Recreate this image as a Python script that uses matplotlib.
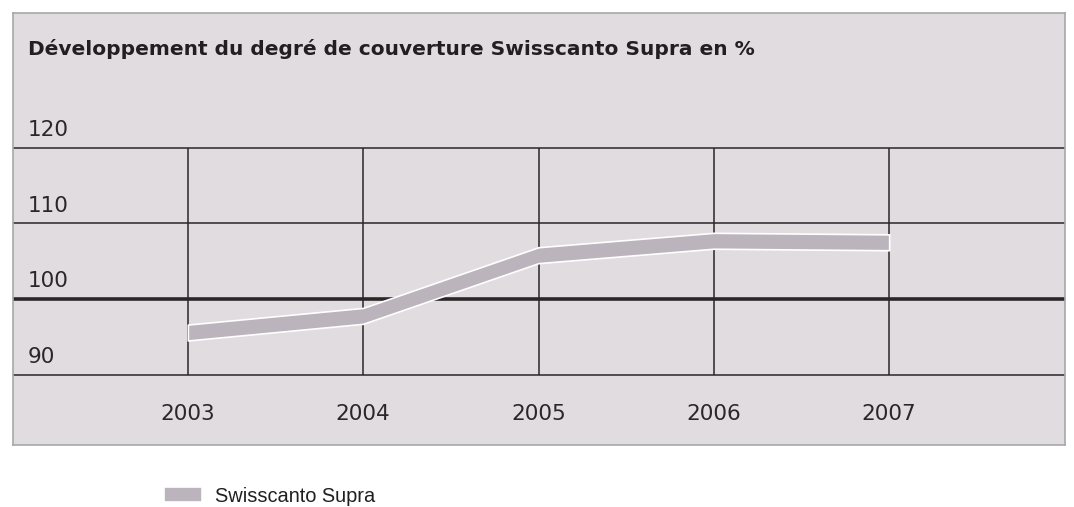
import matplotlib
matplotlib.use("Agg")
import matplotlib.pyplot as plt
import numpy as np

# ---- data ----
years = [2003, 2004, 2005, 2006, 2007]
coverage = [95.6, 97.8, 105.8, 107.7, 107.5]
y_ticks = [90, 100, 110, 120]
title = "Développement du degré de couverture Swisscanto Supra en %"
series_name = "Swisscanto Supra"

BG = "#e0dce0"
BAND = "#bcb4bc"
DARK = "#2b2727"
BORDER = "#a8a8a8"

W, H = 1074, 507
fig = plt.figure(figsize=(W / 100, H / 100), dpi=100)
fig.patch.set_facecolor("white")

left, right, top, bottom = 12.5, 1064.5, 12.5, 445.0
ax = fig.add_axes([left / W, (H - bottom) / H, (right - left) / W, (bottom - top) / H])
ax.set_facecolor(BG)

px_per_unit = (375.0 - 147.5) / 30.0
ax.set_xlim(2002, 2008)
ax.set_ylim(90 - (bottom - 375.0) / px_per_unit, 120 + (147.5 - top) / px_per_unit)

for s in ax.spines.values():
    s.set_color(BORDER)
    s.set_linewidth(1.2)
ax.set_xticks([])
ax.set_yticks([])

# grid
for v in y_ticks:
    ax.axhline(v, color=DARK, lw=2.6 if v == 100 else 1.1, zorder=2)
ax.vlines(years, min(y_ticks), max(y_ticks), color=DARK, lw=1.1, zorder=2)

# band line
v = np.array(coverage)
half = 1.05
ax.fill_between(years, v - half, v + half, facecolor=BAND, edgecolor="white",
                lw=1.2, zorder=3, label=series_name)

tick_font = dict(family=["DejaVu Sans"], fontsize=15.5, color="#2b2727", fontweight="normal")

# y labels
for t in y_ticks:
    ax.annotate(str(t), xy=(0, t), xycoords=("axes fraction", "data"),
                xytext=(15.5 * 0.72, 8.5), textcoords="offset points",
                ha="left", va="baseline", **tick_font)

# year labels
for yr in years:
    ax.text(yr, (bottom - 420.5) / (bottom - top), str(yr),
            transform=ax.get_xaxis_transform(), ha="center", va="baseline", **tick_font)

# title
ax.text((28 - left) / (right - left), (bottom - 55) / (bottom - top), title,
        transform=ax.transAxes, ha="left", va="baseline",
        family=["DejaVu Sans"], fontweight="bold", fontsize=14.5, color="#231f20")

# legend
leg = fig.legend(loc="center left", bbox_to_anchor=(164 / W, (H - 496) / H),
                 frameon=False, borderpad=0, borderaxespad=0,
                 handlelength=1.9, handleheight=0.8, handletextpad=0.65,
                 prop=dict(family="Liberation Sans", size=14.4))
for txt in leg.get_texts():
    txt.set_color("#231f20")

fig.savefig("out.png", dpi=100, facecolor="white")
